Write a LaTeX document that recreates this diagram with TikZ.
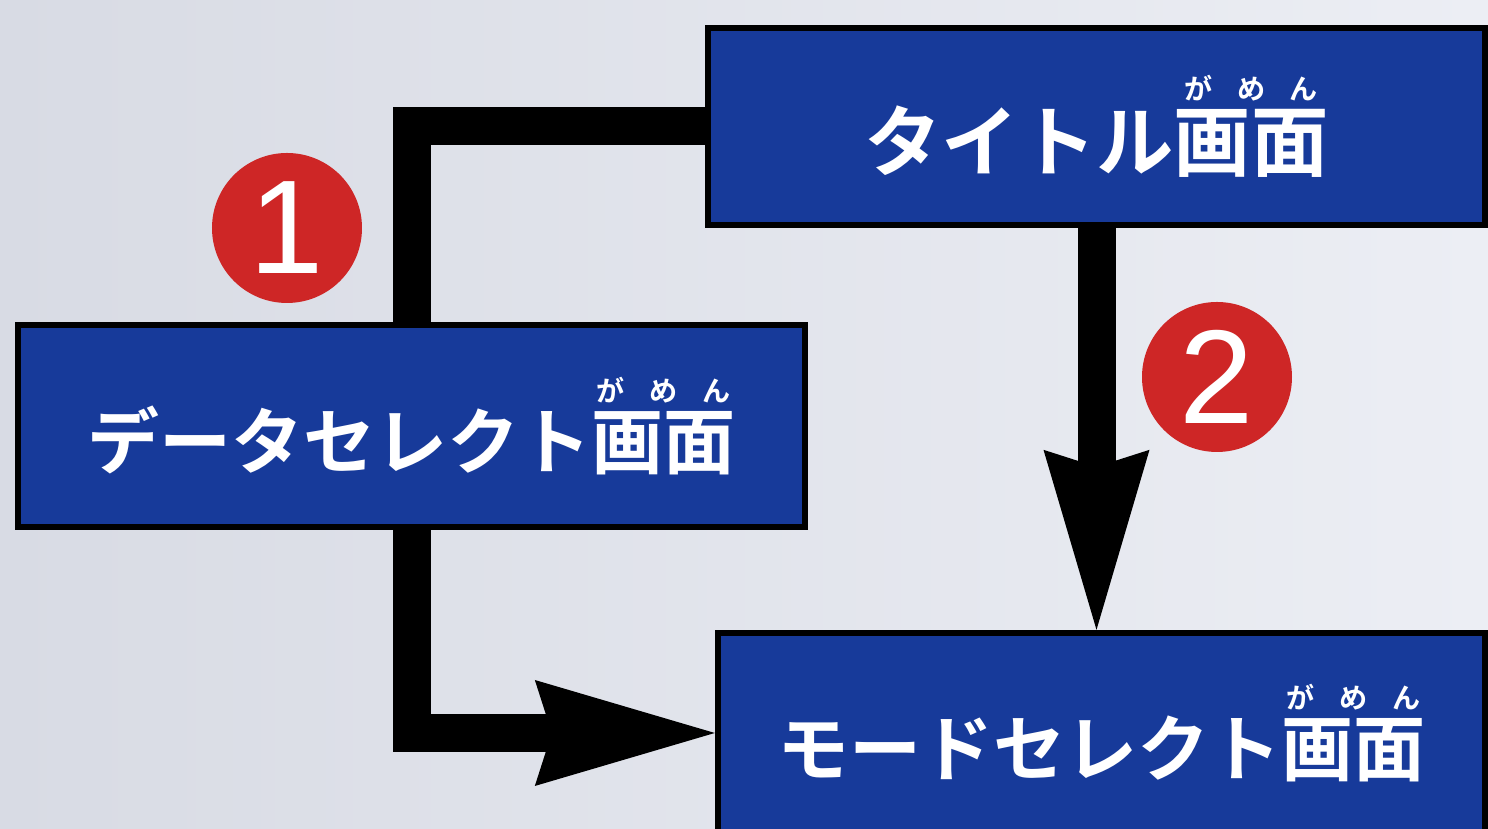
\documentclass[tikz,border=0pt]{standalone}
\usepackage{fontspec}
\newfontfamily\jpfont{Noto Sans CJK JP Bold}
\newfontfamily\numfont{Liberation Sans}
\usetikzlibrary{arrows.meta}

\definecolor{scrblue}{RGB}{23,58,154}
\definecolor{numred}{RGB}{206,38,38}
\definecolor{bgleft}{RGB}{216,219,228}
\definecolor{bgright}{RGB}{236,238,244}

% ruby over a two-character word
\newcommand{\furi}[2]{\leavevmode\rlap{\raisebox{0.92em}{\makebox[2em]{\fontsize{8}{8}\selectfont #2}}}#1}
\newcommand{\gamen}{\furi{画面}{が\hspace{7pt}め\hspace{7pt}ん}}

\tikzset{
  scr/.style={draw=black, line width=1.8pt, fill=scrblue, text=white,
    inner sep=0pt, font=\jpfont\fontsize{20.5}{24}\selectfont},
  conn/.style={line width=0.38cm, line join=miter, draw=black},
  arr/.style={conn, -{Stealth[length=1.8cm, width=1.06cm, inset=0.17cm, line width=0pt]}},
  num/.style={circle, fill=numred, text=white, inner sep=0pt,
    minimum size=1.5cm, font=\numfont\fontsize{38}{40}\selectfont}
}

\begin{document}
\begin{tikzpicture}
  \clip (0,0) rectangle (14.88,8.29);
  \shade[left color=bgleft, right color=bgright] (0,0) rectangle (14.88,8.29);

  % Screens
  \node[scr, minimum width=7.77cm, minimum height=1.97cm,
    font=\jpfont\fontsize{22}{26}\selectfont] (title) at (10.965,7.025)
    {タイトル\gamen};
  \node[scr, minimum width=7.87cm, minimum height=2.02cm] (data) at (4.115,4.03)
    {データセレクト\gamen};
  \node[scr, minimum width=7.67cm, minimum height=2.0cm] (mode) at (11.015,0.96)
    {モードセレクト\gamen};

  % Connectors
  \draw[conn] (title.west) -| (data.north);
  \draw[arr] (data.south) |- (mode.west);
  \draw[arr] (title.south) -- (title.south |- mode.north);

  % Step numbers
  \node[num] (n1) at (2.87,6.01) {1};
  \node[num] (n2) at (12.17,4.52) {2};
\end{tikzpicture}
\end{document}
